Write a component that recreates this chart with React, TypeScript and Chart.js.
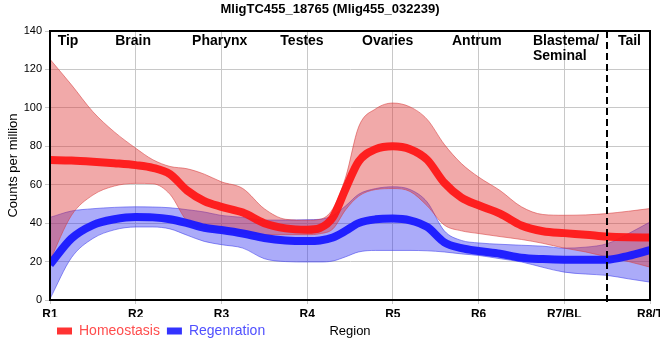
import React, { useEffect, useRef } from "react";
import { Chart, registerables } from "chart.js";

Chart.register(...registerables);

const chartTitle = "MligTC455_18765 (Mlig455_032239)";
const seriesNames = ["Homeostasis", "Regenration"];
const xTickLabels = ["R1", "R2", "R3", "R4", "R5", "R6", "R7/BL", "R8/T"];
const regionNames = ["Tip", "Brain", "Pharynx", "Testes", "Ovaries", "Antrum", "Blastema/\nSeminal", "Tail"];
const regionPos = [0.21, 0.97, 1.98, 2.94, 3.94, 4.98, 6.02, 6.76];
const dividerPos = 6.5;
const xAxisTitle = "Region";
const yAxisTitle = "Counts per million";

const xs = [0, 0.25, 0.5, 0.75, 1, 1.2, 1.4, 1.6, 1.8, 2, 2.25, 2.5, 2.75, 3, 3.15, 3.3, 3.45, 3.6, 3.8, 4, 4.2, 4.4, 4.6, 4.8, 5, 5.25, 5.5, 5.75, 6, 6.25, 6.5, 6.75, 7];

const homeMean = [72.8, 72.6, 72, 71.2, 70.2, 68.8, 65.5, 57, 51.5, 48.5, 45.5, 40, 37.3, 36.6, 37.5, 43, 58, 72, 78.5, 80, 78.5, 73, 61, 53.3, 49.3, 45, 38.8, 35.8, 34.8, 34, 33, 32.6, 32.5];
const homeUpper = [125.3, 112, 98, 87.5, 79, 73, 69.5, 68.3, 65.5, 61.5, 58, 47.5, 42, 41.5, 42, 47.5, 64, 90, 99.5, 102.5, 100.5, 94, 81, 71, 64, 57, 48.5, 44.5, 44.1, 44.3, 45, 46.2, 47.6];
const homeLower = [20.6, 44, 54.6, 59.3, 60.7, 60.5, 55, 41, 37, 35.5, 34.5, 34, 34, 34, 34.5, 37, 47, 54, 57.5, 58, 56.5, 49, 39, 36, 34.6, 33, 31.5, 29.5, 27, 25, 22.4, 20, 17.1];

const regMean = [18.5, 32, 39, 42, 43.2, 43, 42, 40, 37.6, 36.4, 34.6, 32.3, 31, 30.7, 31, 32.5, 36, 40, 42, 42.4, 41.5, 38, 30, 27, 25.5, 24.1, 22, 21.3, 21, 21, 21, 23, 26];
const regUpper = [43, 46.3, 47.5, 48.2, 48.5, 48.4, 48, 47, 45.8, 44, 43, 41.6, 41.6, 41.8, 42, 44, 49, 55, 58, 58.9, 57.5, 51, 36, 31, 29.7, 29, 28.5, 28, 27, 27.5, 29.3, 34.6, 40.6];
const regLower = [0.6, 22, 32, 36.5, 38, 38, 37, 33.7, 30.5, 28.8, 27, 21.5, 20, 19.8, 19.8, 20.3, 22.5, 25, 25.8, 25.8, 25.8, 25.6, 25, 24, 23.2, 21.5, 19.8, 17, 14.5, 13.5, 12.8, 11, 9.3];

const FONT = "'Liberation Sans', Arial, sans-serif";

const toPts = (ys: number[]) => ys.map((y, i) => ({ x: xs[i], y }));

const overlayPlugin = {
  id: "overlay",
  afterDraw(chart: any) {
    const { ctx, chartArea, scales } = chart;
    const xS = scales.x;
    ctx.save();
    ctx.strokeStyle = "#000";
    ctx.lineWidth = 2;
    ctx.strokeRect(chartArea.left, chartArea.top, chartArea.right - chartArea.left, chartArea.bottom - chartArea.top);
    const dx = Math.round(xS.getPixelForValue(dividerPos));
    ctx.setLineDash([7, 4]);
    ctx.beginPath();
    ctx.moveTo(dx, chartArea.top);
    ctx.lineTo(dx, chartArea.bottom + 4);
    ctx.stroke();
    ctx.setLineDash([]);
    ctx.fillStyle = "#000";
    ctx.font = `bold 13px ${FONT}`;
    ctx.textAlign = "center";
    ctx.textBaseline = "middle";
    ctx.fillText(chartTitle, 330, 9);
    ctx.font = `bold 14px ${FONT}`;
    regionNames.forEach((name, i) => {
      const cx = xS.getPixelForValue(regionPos[i]);
      const lines = name.split("\n");
      if (lines.length > 1) {
        const w = Math.max(...lines.map((l) => ctx.measureText(l).width));
        ctx.textAlign = "left";
        lines.forEach((l, j) => ctx.fillText(l, cx - w / 2, chartArea.top + 10 + j * 15));
      } else {
        ctx.textAlign = "center";
        ctx.fillText(name, cx, chartArea.top + 10);
      }
    });
    ctx.font = `13px ${FONT}`;
    ctx.textAlign = "center";
    ctx.fillText(xAxisTitle, 350, 331);
    ctx.restore();
  },
};

export default function App() {
  const ref = useRef<HTMLCanvasElement>(null);
  useEffect(() => {
    document.body.style.margin = "0";
    const band = (c: string) => ({
      pointRadius: 0,
      borderWidth: 1,
      cubicInterpolationMode: "monotone" as const,
      borderColor: c,
    });
    const chart = new Chart(ref.current!, {
      type: "line",
      data: {
        datasets: [
          {
            label: seriesNames[0],
            data: toPts(homeMean),
            borderColor: "rgba(255,20,20,0.92)",
            borderWidth: 8,
            pointRadius: 0,
            cubicInterpolationMode: "monotone",
            fill: false,
          },
          {
            label: seriesNames[1],
            data: toPts(regMean),
            borderColor: "rgba(25,25,255,0.95)",
            borderWidth: 8,
            pointRadius: 0,
            cubicInterpolationMode: "monotone",
            fill: false,
          },
          { label: "hl", data: toPts(homeLower), ...band("rgba(215,60,60,0.55)"), fill: false },
          {
            label: "hu",
            data: toPts(homeUpper),
            ...band("rgba(215,60,60,0.55)"),
            fill: "-1",
            backgroundColor: "rgba(222,50,50,0.42)",
          },
          { label: "rl", data: toPts(regLower), ...band("rgba(60,60,235,0.55)"), fill: false },
          {
            label: "ru",
            data: toPts(regUpper),
            ...band("rgba(60,60,235,0.55)"),
            fill: "-1",
            backgroundColor: "rgba(45,45,240,0.4)",
          },
        ],
      },
      options: {
        responsive: false,
        animation: false,
        events: [],
        layout: { padding: { left: 0, right: 10, top: 31, bottom: 12 } },
        scales: {
          x: {
            type: "linear",
            min: 0,
            max: 7,
            afterFit: (s: any) => {
              s.height = 17;
              s.paddingLeft = 0;
              s.paddingRight = 0;
            },
            ticks: {
              stepSize: 1,
              autoSkip: false,
              maxRotation: 0,
              padding: 3,
              color: "#000",
              font: { family: FONT, size: 12, weight: "bold" },
              callback: (v: any) => xTickLabels[v] ?? "",
            },
            grid: { color: "#c8c8c8", lineWidth: 1, tickLength: 4 },
            border: { display: true, color: "#000", width: 2 },
          },
          y: {
            min: 0,
            max: 140,
            afterFit: (s: any) => {
              s.width = 50;
            },
            ticks: {
              stepSize: 20,
              padding: 3,
              color: "#000",
              font: { family: FONT, size: 11 },
            },
            grid: { color: "#c8c8c8", lineWidth: 1, tickLength: 5 },
            border: { display: true, color: "#000", width: 2 },
            title: {
              display: true,
              text: yAxisTitle,
              color: "#000",
              font: { family: FONT, size: 13 },
              padding: { top: 6, bottom: 0 },
            },
          },
        },
        plugins: {
          title: { display: false },
          tooltip: { enabled: false },
          legend: {
            display: true,
            position: "bottom",
            align: "start",
            fullSize: false,
            labels: {
              boxWidth: 15,
              boxHeight: 7,
              padding: 7,
              font: { family: FONT, size: 14 },
              generateLabels: () => [
                {
                  text: seriesNames[0],
                  fillStyle: "#ff3333",
                  strokeStyle: "#ff3333",
                  lineWidth: 0,
                  fontColor: "#ff4d4d",
                  hidden: false,
                  datasetIndex: 0,
                } as any,
                {
                  text: seriesNames[1],
                  fillStyle: "#3333ff",
                  strokeStyle: "#3333ff",
                  lineWidth: 0,
                  fontColor: "#5050ff",
                  hidden: false,
                  datasetIndex: 1,
                } as any,
              ],
            },
          },
        },
      },
      plugins: [overlayPlugin],
    });
    return () => chart.destroy();
  }, []);
  return (
    <div style={{ width: 660, height: 360, background: "#fff" }}>
      <canvas ref={ref} width={660} height={360} />
    </div>
  );
}
